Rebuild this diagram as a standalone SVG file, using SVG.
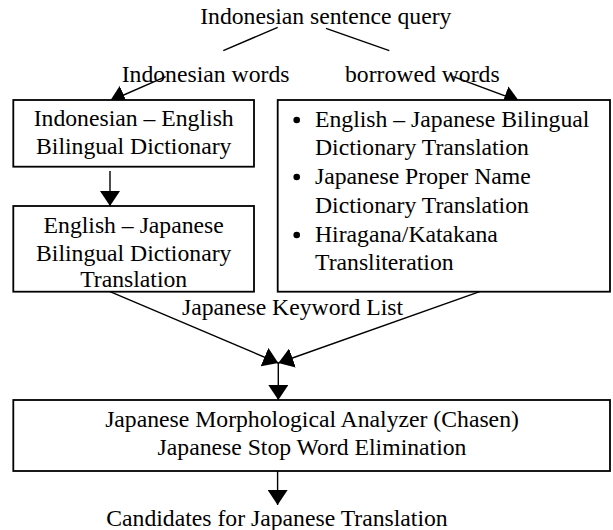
<svg xmlns="http://www.w3.org/2000/svg" width="613" height="530" viewBox="0 0 613 530">
<style>
text{font-family:"Liberation Serif","Times New Roman",serif;font-size:23.7px;fill:#000}
.c{text-anchor:middle}
.box{fill:#fff;stroke:#000;stroke-width:1.8}
.ln{fill:none;stroke:#000;stroke-width:1.4}
</style>
<defs>
<marker id="ah" viewBox="0 0 15 20" refX="15" refY="10" markerWidth="15" markerHeight="20" markerUnits="userSpaceOnUse" orient="auto">
<path d="M0,0 L15,10 L0,20 z" fill="#000"/>
</marker>
</defs>
<rect width="613" height="530" fill="#fff"/>
<g id="connectors">
<line class="ln" x1="277.7" y1="27.3" x2="223.3" y2="50.7"/>
<line class="ln" x1="326" y1="28.3" x2="389.3" y2="50.7"/>
<line class="ln" x1="165.7" y1="76.7" x2="110" y2="101" marker-end="url(#ah)"/>
<line class="ln" x1="453.3" y1="76.7" x2="519" y2="101" marker-end="url(#ah)"/>
<line class="ln" x1="110" y1="171" x2="110" y2="206" marker-end="url(#ah)"/>
<line class="ln" x1="110" y1="291.7" x2="278.3" y2="363" marker-end="url(#ah)"/>
<line class="ln" x1="479.7" y1="291.7" x2="278.3" y2="363" marker-end="url(#ah)"/>
<line class="ln" x1="278.3" y1="363" x2="278.3" y2="400" marker-end="url(#ah)"/>
<line class="ln" x1="277.6" y1="471" x2="277.6" y2="505" marker-end="url(#ah)"/>
</g>
<g id="query"><text class="c" x="325.8" y="24">Indonesian sentence query</text></g>
<g id="label-indonesian-words"><text x="121.7" y="81.7">Indonesian words</text></g>
<g id="label-borrowed-words"><text x="345" y="81.7">borrowed words</text></g>
<g id="id-en-dict">
<rect class="box" x="13.3" y="100" width="240.7" height="66.7"/>
<text class="c" x="133.7" y="126">Indonesian – English</text>
<text class="c" x="133.7" y="154">Bilingual Dictionary</text>
</g>
<g id="en-ja-dict">
<rect class="box" x="13.3" y="206" width="240.7" height="85.7"/>
<text class="c" x="133.7" y="233.3">English – Japanese</text>
<text class="c" x="133.7" y="260.7">Bilingual Dictionary</text>
<text class="c" x="133.7" y="287.3">Translation</text>
</g>
<g id="borrowed-box">
<rect class="box" x="277.7" y="100" width="332.3" height="191.7"/>
<circle cx="296.7" cy="120" r="3.3"/>
<text x="315" y="126.7">English – Japanese Bilingual</text>
<text x="315" y="155">Dictionary Translation</text>
<circle cx="296.7" cy="177" r="3.3"/>
<text x="315" y="183.5">Japanese Proper Name</text>
<text x="315" y="212.5">Dictionary Translation</text>
<circle cx="296.7" cy="235" r="3.3"/>
<text x="315" y="241.7">Hiragana/Katakana</text>
<text x="315" y="270">Transliteration</text>
</g>
<g id="label-keyword-list"><text x="182" y="315">Japanese Keyword List</text></g>
<g id="morph-box">
<rect class="box" x="13.3" y="400" width="596.7" height="71"/>
<text class="c" x="312" y="427">Japanese Morphological Analyzer (Chasen)</text>
<text class="c" x="312" y="455">Japanese Stop Word Elimination</text>
</g>
<g id="candidates"><text class="c" x="277" y="526">Candidates for Japanese Translation</text></g>
</svg>
